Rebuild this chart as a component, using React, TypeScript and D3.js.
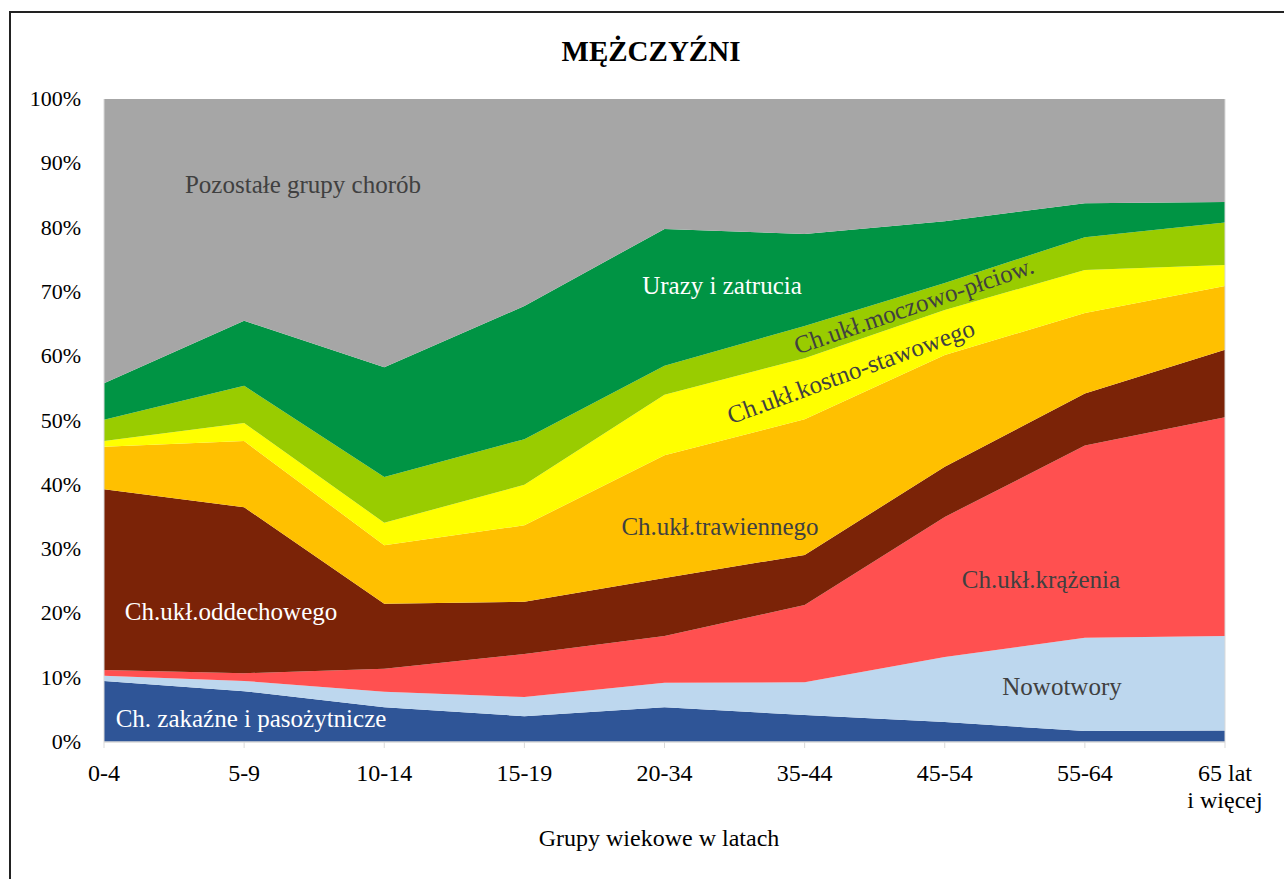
import * as d3 from "d3";

const ageGroups = ["0-4", "5-9", "10-14", "15-19", "20-34", "35-44", "45-54", "55-64", "65+"];

const zakazne = [9.5, 7.9, 5.4, 4.0, 5.4, 4.2, 3.1, 1.7, 1.8];
const nowotwory = [0.8, 1.6, 2.4, 3.0, 3.8, 5.1, 10.1, 14.5, 14.7];
const krazenia = [0.9, 1.2, 3.6, 6.7, 7.3, 12.0, 21.8, 29.9, 34.0];
const oddechowego = [28.1, 25.8, 10.1, 8.1, 9.0, 7.8, 7.8, 8.1, 10.5];
const trawiennego = [6.6, 10.3, 9.1, 11.9, 19.1, 21.1, 17.4, 12.5, 9.9];
const kostno = [0.9, 2.8, 3.5, 6.3, 9.4, 9.5, 7.0, 6.7, 3.3];
const moczowo = [3.3, 5.8, 7.1, 7.1, 4.5, 5.0, 4.2, 5.1, 6.6];
const urazy = [5.7, 10.1, 17.1, 20.7, 21.3, 14.3, 9.6, 5.3, 3.2];
const pozostale = [44.2, 34.5, 41.7, 32.2, 20.2, 21.0, 19.0, 16.2, 16.0];

const yTicks = [0, 10, 20, 30, 40, 50, 60, 70, 80, 90, 100];

const series = [
  { key: "zakazne", values: zakazne, color: "#2F5597" },
  { key: "nowotwory", values: nowotwory, color: "#BDD7EE" },
  { key: "krazenia", values: krazenia, color: "#FF5050" },
  { key: "oddechowego", values: oddechowego, color: "#7B2307" },
  { key: "trawiennego", values: trawiennego, color: "#FFC000" },
  { key: "kostno", values: kostno, color: "#FFFF00" },
  { key: "moczowo", values: moczowo, color: "#99CC00" },
  { key: "urazy", values: urazy, color: "#009444" },
  { key: "pozostale", values: pozostale, color: "#A6A6A6" },
];

const W = 1284;
const H = 879;
const left = 104;
const right = 1225;
const top = 99;
const bottom = 742;
const font = "'Liberation Serif', 'Times New Roman', serif";
const dark = "#404040";

export default function App() {
  const rows = ageGroups.map((g, i) => {
    const r: any = { group: g };
    series.forEach(s => (r[s.key] = s.values[i]));
    return r;
  });
  const stacked = d3.stack().keys(series.map(s => s.key)).offset(d3.stackOffsetExpand)(rows);

  const x = d3.scalePoint().domain(ageGroups).range([left, right]);
  const y = d3.scaleLinear().domain([0, 1]).range([bottom, top]);
  const yPct = d3.scaleLinear().domain([0, 100]).range([bottom, top]);

  const area = d3.area<any>()
    .x(d => x(d.data.group)!)
    .y0(d => y(d[0]))
    .y1(d => y(d[1]));

  return (
    <svg width={W} height={H} style={{ position: "absolute", left: 0, top: 0, background: "#fff" }}>
      <rect x={0} y={0} width={W} height={H} fill="#fff" />
      {/* outer frame */}
      <path d={`M10,${H} V12 H${W}`} fill="none" stroke="#222" strokeWidth={2} />

      <text x={651} y={61} textAnchor="middle" fontFamily={font} fontWeight="bold" fontSize={29}>
        MĘŻCZYŹNI
      </text>

      {stacked.map((layer, i) => (
        <path key={series[i].key} d={area(layer as any) || ""} fill={series[i].color} />
      ))}

      {/* plot frame and axis */}
      <line x1={right} x2={right} y1={top} y2={bottom} stroke="#D9D9D9" strokeWidth={1} />
      <line x1={left} x2={left} y1={top} y2={bottom} stroke="#D9D9D9" strokeWidth={1} />
      <line x1={left} x2={right} y1={bottom} y2={bottom} stroke="#D9D9D9" strokeWidth={1.5} />
      {ageGroups.map(g => (
        <line key={g} x1={x(g)} x2={x(g)} y1={bottom} y2={bottom + 6} stroke="#D9D9D9" />
      ))}

      {yTicks.map(t => (
        <text key={t} x={81} y={yPct(t) + 7} textAnchor="end" fontFamily={font} fontSize={22}>
          {t}%
        </text>
      ))}

      {ageGroups.map((g, i) =>
        i === ageGroups.length - 1 ? (
          <text key={g} x={x(g)} y={781} textAnchor="middle" fontFamily={font} fontSize={24}>
            <tspan x={x(g)}>65 lat</tspan>
            <tspan x={x(g)} dy={27}>i więcej</tspan>
          </text>
        ) : (
          <text key={g} x={x(g)} y={781} textAnchor="middle" fontFamily={font} fontSize={24}>
            {g}
          </text>
        )
      )}

      <text x={659} y={846} textAnchor="middle" fontFamily={font} fontSize={24}>
        Grupy wiekowe w latach
      </text>

      {/* series labels */}
      <g fontFamily={font} fontSize={25}>
        <text x={303} y={193} textAnchor="middle" fill={dark}>Pozostałe grupy chorób</text>
        <text x={722} y={294} textAnchor="middle" fill="#fff">Urazy i zatrucia</text>
        <text x={914} y={314} textAnchor="middle" fill={dark} transform="rotate(-19 914 306)">Ch.ukł.moczowo-płciow.</text>
        <text x={851} y={380} textAnchor="middle" fill={dark} transform="rotate(-20 851 372)">Ch.ukł.kostno-stawowego</text>
        <text x={720} y={535} textAnchor="middle" fill={dark}>Ch.ukł.trawiennego</text>
        <text x={1041} y={588} textAnchor="middle" fill={dark}>Ch.ukł.krążenia</text>
        <text x={231} y={620} textAnchor="middle" fill="#fff">Ch.ukł.oddechowego</text>
        <text x={1062} y={695} textAnchor="middle" fill={dark}>Nowotwory</text>
        <text x={251} y={727} textAnchor="middle" fill="#fff">Ch. zakaźne i pasożytnicze</text>
      </g>
    </svg>
  );
}
